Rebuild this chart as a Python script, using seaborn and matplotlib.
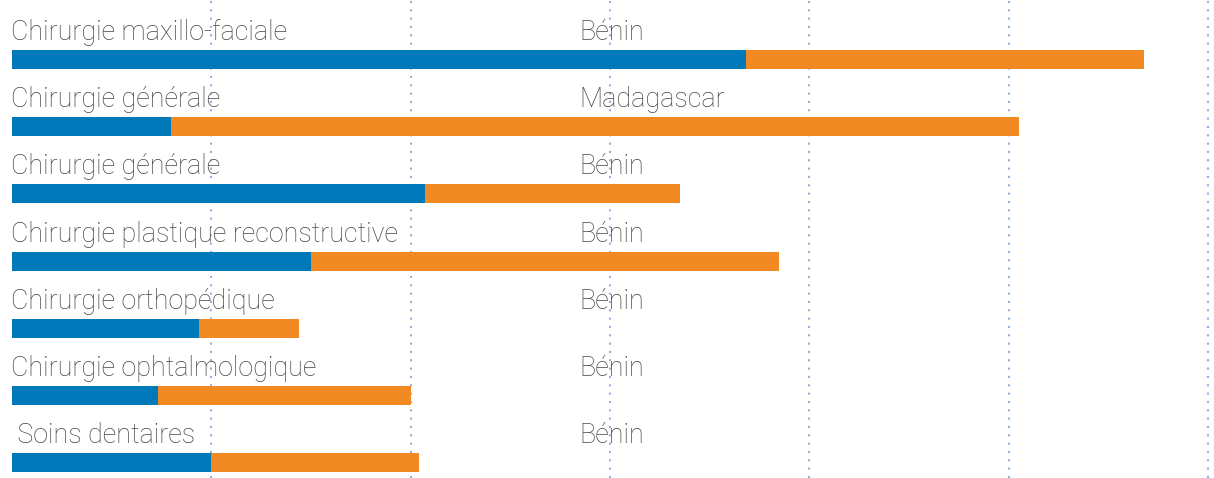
import matplotlib
matplotlib.use("Agg")
import matplotlib.pyplot as plt
import seaborn as sns
import pandas as pd

specialites = ["Chirurgie maxillo-faciale", "Chirurgie générale", "Chirurgie générale",
               "Chirurgie plastique reconstructive", "Chirurgie orthopédique",
               "Chirurgie ophtalmologique", " Soins dentaires"]
pays = ["Bénin", "Madagascar", "Bénin", "Bénin", "Bénin", "Bénin", "Bénin"]
serie_bleue = [184, 40, 103.5, 75, 47, 36.5, 50]
serie_orange = [100, 212.5, 64, 117.5, 25, 63.5, 52]
grid_ticks = [50, 100, 150, 200, 250, 300]

BLUE = "#0079BA"
ORANGE = "#F18A22"
TEXT = "#454545"
GRID = "#8db3df"

rows = [f"r{i}" for i in range(len(specialites))]
df = pd.DataFrame({"row": rows, "bleu": serie_bleue,
                   "total": [b + o for b, o in zip(serie_bleue, serie_orange)]})

sns.set_theme(style="white")
plt.rcParams['font.family'] = ['Roboto', 'DejaVu Sans']

fig = plt.figure(figsize=(12.14, 4.78), dpi=100)
ax = fig.add_axes([0, 0, 1, 1])

for t in grid_ticks:
    ax.axvline(t, color=GRID, lw=1.5, linestyle=(0, (1, 3)), zorder=0)

bw = 19 / 67.17
sns.barplot(data=df, y="row", x="total", orient="h", color=ORANGE, width=bw,
            saturation=1, ax=ax, zorder=2, linewidth=0)
sns.barplot(data=df, y="row", x="bleu", orient="h", color=BLUE, width=bw,
            saturation=1, ax=ax, zorder=3, linewidth=0)

unit = 1196 / 300.0
ax.set_xlim(-12 / unit, (1214 - 12) / unit)
ax.set_ylim((478 - 59.5) / 67.17, -59.5 / 67.17)

off = 19.5 / 67.17
for i, (s, p) in enumerate(zip(specialites, pays)):
    ax.text(-1 / unit, i - off, s, fontsize=19.4, fontweight="light", color=TEXT,
            va="baseline", ha="left", zorder=4)
    ax.text((579 - 12) / unit, i - off, p, fontsize=19.4, fontweight="light",
            color=TEXT, va="baseline", ha="left", zorder=4)

ax.axis("off")
fig.savefig("out.png", dpi=100)
